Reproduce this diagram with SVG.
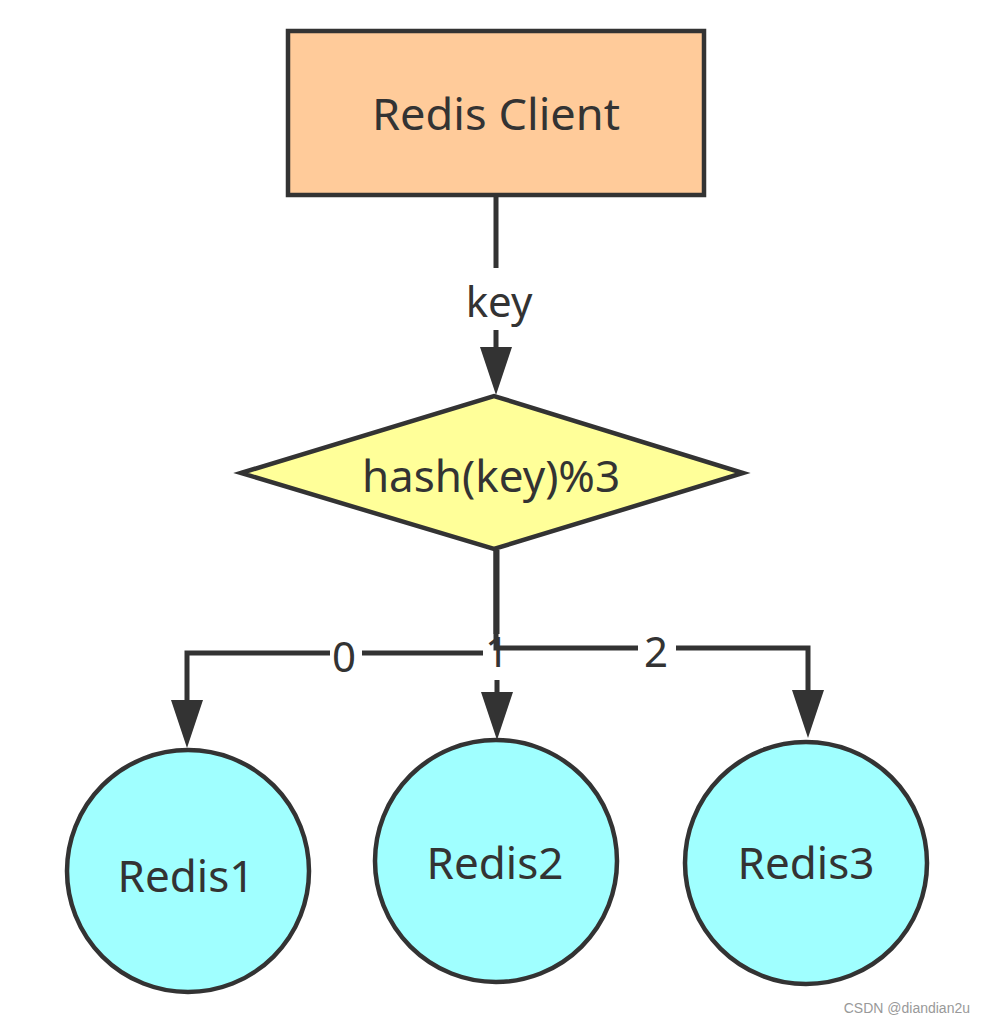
<svg xmlns="http://www.w3.org/2000/svg" width="982" height="1024" viewBox="0 0 982 1024">
<defs>
<style>
.node{stroke:#333333;stroke-width:4.5}
.txt{font-family:"Noto Sans","Open Sans","Liberation Sans",sans-serif;font-size:44px;fill:#333333;text-anchor:middle}
.edge{fill:none;stroke:#333333;stroke-width:5}
.lbl{font-family:"Noto Sans","Open Sans","Liberation Sans",sans-serif;font-size:42px;fill:#333333;text-anchor:middle}
.lblbg{fill:#ffffff}
</style>
<marker id="arr" viewBox="0 0 48 32" refX="0" refY="16" markerWidth="48" markerHeight="32" markerUnits="userSpaceOnUse" orient="auto" overflow="visible">
<path d="M0,0 L48,16 L0,32 Z" fill="#333333"/>
</marker>
</defs>
<rect width="982" height="1024" fill="#ffffff"/>
<g id="connectors">
<g id="e-key">
<path class="edge" d="M496,195 V347" marker-end="url(#arr)"/>
<rect class="lblbg" x="462" y="268" width="76" height="62"/>
<text class="lbl" x="499" y="317">key</text>
</g>
<g id="e0">
<path class="edge" d="M496,550 V653 H187 V700" marker-end="url(#arr)"/>
<rect class="lblbg" x="330" y="634" width="32" height="40"/>
<text class="lbl" x="344" y="672">0</text>
</g>
<g id="e1">
<path class="edge" d="M497,550 V692" marker-end="url(#arr)"/>
<rect class="lblbg" x="483" y="634" width="28" height="46"/>
<text class="lbl" x="497" y="667">1</text>
</g>
<g id="e2">
<path class="edge" d="M496,550 V648 H808 V690" marker-end="url(#arr)"/>
<rect class="lblbg" x="638" y="630" width="38" height="40"/>
<text class="lbl" x="656" y="667">2</text>
</g>
</g>
<g id="client">
<rect class="node" x="288" y="31" width="416" height="164" fill="#ffcb9a"/>
<text class="txt" x="496" y="130" textLength="248" lengthAdjust="spacingAndGlyphs">Redis Client</text>
</g>
<g id="hash">
<polygon class="node" points="241,473 494,396 743,473 494,549" fill="#ffff99"/>
<text class="txt" x="491" y="492">hash(key)%3</text>
</g>
<g id="redis1">
<circle class="node" cx="188" cy="871" r="121" fill="#a0ffff"/>
<text class="txt" x="186" y="892">Redis1</text>
</g>
<g id="redis2">
<circle class="node" cx="496" cy="861" r="121" fill="#a0ffff"/>
<text class="txt" x="495" y="879">Redis2</text>
</g>
<g id="redis3">
<circle class="node" cx="806" cy="863" r="121" fill="#a0ffff"/>
<text class="txt" x="806" y="879">Redis3</text>
</g>
<text x="970" y="1013" font-family="'Liberation Sans',Arial,sans-serif" font-size="14" fill="#999999" text-anchor="end">CSDN @diandian2u</text>
</svg>
